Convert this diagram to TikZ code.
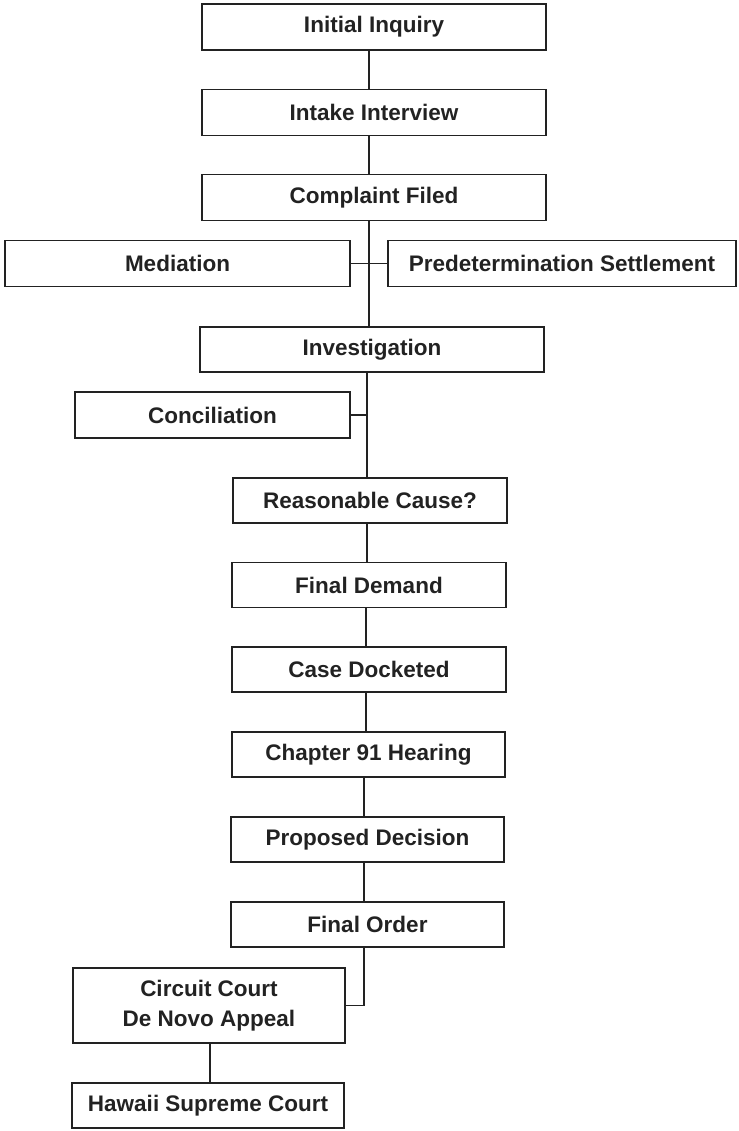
\documentclass[tikz,border=0pt]{standalone}
\usepackage{fontspec}
\setmainfont{Liberation Sans}
\definecolor{ink}{HTML}{222222}
\begin{document}
\begin{tikzpicture}[x=1pt,y=-1pt,
  box/.style={draw=ink,line width=1.8pt,rectangle,inner sep=0pt,align=center,
    text=ink,font=\fontsize{22.5}{30}\selectfont\bfseries,minimum height=46pt},
  conn/.style={draw=ink,line width=1.4pt}]
\useasboundingbox (0,0) rectangle (738,1131);
\node[box,minimum width=344pt] (init) at (374,27) {Initial Inquiry};
\node[box,minimum width=344pt] (intake) at (374,112.5) {Intake Interview};
\node[box,minimum width=344pt] (complaint) at (374,197.5) {Complaint Filed};
\node[box,minimum width=345pt] (med) at (177.5,263.5) {Mediation};
\node[box,minimum width=348pt] (pre) at (562,263.5) {Predetermination Settlement};
\node[box,minimum width=344pt,minimum height=45pt] (inv) at (372,349.5) {Investigation};
\node[box,minimum width=275pt] (con) at (212.5,415) {Conciliation};
\node[box,minimum width=274pt,minimum height=45pt] (rc) at (370,500.5) {Reasonable Cause?};
\node[box,minimum width=274pt,minimum height=45pt] (fd) at (369,585) {Final Demand};
\node[box,minimum width=274pt,minimum height=45pt] (cd) at (369,669.5) {Case Docketed};
\node[box,minimum width=273pt,minimum height=45pt] (ch) at (368.5,754.5) {Chapter 91 Hearing};
\node[box,minimum width=273pt,minimum height=45pt] (pd) at (367.5,839.5) {Proposed Decision};
\node[box,minimum width=273pt,minimum height=45pt] (fo) at (367.5,924.5) {Final Order};
\node[box,minimum width=272pt,minimum height=75pt] (cc) at (209,1005.5) {Circuit Court\\De Novo Appeal};
\node[box,minimum width=272pt,minimum height=45pt] (hs) at (208,1105.5) {Hawaii Supreme Court};
\coordinate (ta) at (369,0);
\coordinate (tb) at (367,0);
\coordinate (tc) at (366,0);
\coordinate (td) at (364,0);
\coordinate (te) at (210,0);
\draw[conn] (init.south -| ta) -- (intake.north -| ta);
\draw[conn] (intake.south -| ta) -- (complaint.north -| ta);
\draw[conn] (complaint.south -| ta) -- (inv.north -| ta);
\draw[conn] (med.east) -- (pre.west);
\draw[conn] (inv.south -| tb) -- (rc.north -| tb);
\draw[conn] (con.east) -- (con.east -| tb);
\draw[conn] (rc.south -| tb) -- (fd.north -| tb);
\draw[conn] (fd.south -| tc) -- (cd.north -| tc);
\draw[conn] (cd.south -| tc) -- (ch.north -| tc);
\draw[conn] (ch.south -| td) -- (pd.north -| td);
\draw[conn] (pd.south -| td) -- (fo.north -| td);
\draw[conn] (fo.south -| td) |- (cc.east);
\draw[conn] (cc.south -| te) -- (hs.north -| te);
\end{tikzpicture}
\end{document}
